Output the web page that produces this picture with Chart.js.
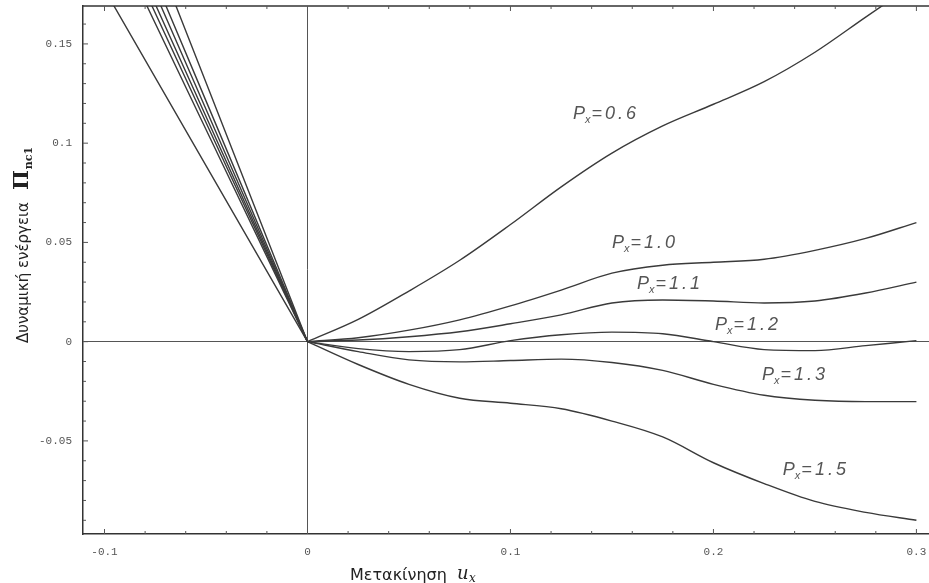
<!DOCTYPE html>
<html>
<head>
<meta charset="utf-8">
<script src="https://cdn.jsdelivr.net/npm/chart.js@4.4.1/dist/chart.umd.min.js"></script>
<style>
  html, body { margin: 0; padding: 0; background: #fff; }
  #wrap { width: 929px; height: 583px; }
</style>
</head>
<body>
<div id="wrap"><canvas id="energyChart"></canvas></div>
<script>
// axis ranges and tick labels
const xMin = -0.1106, xMax = 0.3062;
const yMin = -0.0969, yMax = 0.1691;
const xTicks = [-0.1, 0, 0.1, 0.2, 0.3];
const yTicks = [-0.05, 0, 0.05, 0.1, 0.15];

// right branch (u >= 0), one array per load P_x
const uRight = [0, 0.025, 0.05, 0.075, 0.1, 0.125, 0.15, 0.175, 0.2, 0.225, 0.25, 0.275, 0.3];
const piP06 = [0, 0.0112, 0.0255, 0.041, 0.059, 0.078, 0.095, 0.1087, 0.1196, 0.131, 0.1458, 0.1635, 0.181];
const piP10 = [0, 0.002, 0.0058, 0.011, 0.018, 0.026, 0.0345, 0.0385, 0.040, 0.0415, 0.046, 0.052, 0.060];
const piP11 = [0, 0.0008, 0.0025, 0.005, 0.009, 0.0135, 0.0195, 0.021, 0.0205, 0.0195, 0.0205, 0.0245, 0.030];
const piP12 = [0, -0.0035, -0.005, -0.004, 0.0005, 0.0035, 0.0048, 0.004, 0.0, -0.004, -0.0045, -0.002, 0.0005];
const piP13 = [0, -0.005, -0.0092, -0.0102, -0.0095, -0.0088, -0.0105, -0.0145, -0.0215, -0.027, -0.0295, -0.0302, -0.0302];
const piP15 = [0, -0.0115, -0.0215, -0.0285, -0.031, -0.0338, -0.040, -0.048, -0.061, -0.0715, -0.0805, -0.086, -0.09];

// left branch (u <= 0), nearly straight lines
const uLeft = [-0.1, -0.05, 0];
const leftP06 = [0.1774, 0.0887, 0];
const leftP10 = [0.2138, 0.1069, 0];
const leftP11 = [0.2207, 0.1104, 0];
const leftP12 = [0.2267, 0.1134, 0];
const leftP13 = [0.2342, 0.1171, 0];
const leftP14 = [0.2426, 0.1213, 0];
const leftP15 = [0.2610, 0.1305, 0];

// curve labels: value text and anchor (u, Pi)
const labelText = ["0.6", "1.0", "1.1", "1.2", "1.3", "1.5"];
const labelU = [0.1308, 0.150, 0.1623, 0.2008, 0.2239, 0.2342];
const labelPi = [0.1122, 0.0472, 0.0266, 0.0059, -0.0193, -0.0672];

const lineColor = "#3a3a3a";
const toPts = (xs, ys) => xs.map((x, i) => ({ x: x, y: ys[i] }));

const rightSets = [piP06, piP10, piP11, piP12, piP13, piP15].map((ys) => ({
  data: toPts(uRight, ys),
  showLine: true,
  borderColor: lineColor,
  borderWidth: 1.4,
  cubicInterpolationMode: "monotone",
  pointRadius: 0,
}));
const leftSets = [leftP06, leftP10, leftP11, leftP12, leftP13, leftP14, leftP15].map((ys) => ({
  data: toPts(uLeft, ys),
  showLine: true,
  borderColor: lineColor,
  borderWidth: 1.4,
  tension: 0,
  pointRadius: 0,
}));

const decorations = {
  id: "decorations",
  afterDraw: (chart) => {
    const ctx = chart.ctx;
    const a = chart.chartArea;
    const xs = chart.scales.x;
    const ys = chart.scales.y;
    ctx.save();

    // top frame line
    ctx.strokeStyle = "#333";
    ctx.lineWidth = 1.5;
    ctx.beginPath();
    ctx.moveTo(a.left, a.top);
    ctx.lineTo(a.right, a.top);
    ctx.stroke();

    // inward tick marks
    ctx.lineWidth = 1;
    ctx.strokeStyle = "#555";
    ctx.beginPath();
    for (let i = -5; i <= 15; i++) {
      const px = xs.getPixelForValue(i * 0.02);
      const len = i % 5 === 0 ? 5 : 3;
      ctx.moveTo(px, a.bottom);
      ctx.lineTo(px, a.bottom - len);
      ctx.moveTo(px, a.top);
      ctx.lineTo(px, a.top + len);
    }
    for (let i = -9; i <= 16; i++) {
      const py = ys.getPixelForValue(i * 0.01);
      const len = i % 5 === 0 ? 5 : 3;
      ctx.moveTo(a.left, py);
      ctx.lineTo(a.left + len, py);
    }
    ctx.stroke();

    // curve labels P_x=...
    ctx.fillStyle = "#555";
    ctx.textBaseline = "alphabetic";
    ctx.textAlign = "left";
    labelText.forEach((t, i) => {
      let x = xs.getPixelForValue(labelU[i]);
      const y = ys.getPixelForValue(labelPi[i]);
      ctx.font = "italic 18px 'Liberation Sans'";
      ctx.fillText("P", x, y);
      x += ctx.measureText("P").width;
      ctx.font = "italic 11px 'Liberation Sans'";
      ctx.fillText("x", x, y + 4);
      x += ctx.measureText("x").width + 1;
      ctx.font = "italic 18px 'Liberation Sans'";
      ctx.letterSpacing = "3px";
      ctx.fillText("=" + t, x, y);
      ctx.letterSpacing = "0px";
    });

    // x axis title
    ctx.fillStyle = "#222";
    ctx.font = "16px 'DejaVu Sans'";
    ctx.fillText("Μετακίνηση", 350, 580);
    ctx.font = "italic 18px 'DejaVu Serif'";
    ctx.fillText("u", 457, 579);
    ctx.font = "italic 12px 'DejaVu Serif'";
    ctx.fillText("x", 469, 582);

    // y axis title (rotated)
    ctx.translate(28, 343);
    ctx.rotate(-Math.PI / 2);
    ctx.font = "15px 'DejaVu Sans'";
    ctx.fillText("Δυναμική ενέργεια", 0, 0);
    let tx = ctx.measureText("Δυναμική ενέργεια").width + 12;
    ctx.font = "bold 21px 'DejaVu Serif'";
    ctx.fillText("Π", tx, 0);
    tx += ctx.measureText("Π").width + 1;
    ctx.font = "bold 11px 'DejaVu Serif'";
    ctx.fillText("nc1", tx, 4);
    ctx.restore();
  },
};

const zeroGrid = (c) => (c.tick && c.tick.value === 0 ? "#555" : "rgba(0,0,0,0)");
const tickFont = { family: "'Liberation Mono', 'DejaVu Sans Mono', monospace", size: 11 };
const fmt = (v) => (v === 0 ? "0" : String(Number(v.toFixed(3))));

const ctx = document.getElementById("energyChart").getContext("2d");
const energyChart = new Chart(ctx, {
  type: "scatter",
  data: { datasets: [...leftSets, ...rightSets] },
  plugins: [decorations],
  options: {
    responsive: true,
    maintainAspectRatio: false,
    animation: false,
    layout: { padding: { top: 6, right: 0, left: 0, bottom: 0 } },
    plugins: {
      legend: { display: false },
      tooltip: { enabled: false },
    },
    scales: {
      x: {
        type: "linear",
        min: xMin,
        max: xMax,
        afterBuildTicks: (s) => {
          s.ticks = xTicks.map((v) => ({ value: v }));
        },
        afterFit: (s) => {
          s.height = 49;
          s.paddingLeft = 0;
          s.paddingRight = 0;
        },
        grid: { color: zeroGrid, lineWidth: 1, drawTicks: false },
        border: { display: true, color: "#333", width: 1.5 },
        ticks: { font: tickFont, color: "#555", padding: 11, maxRotation: 0, callback: fmt },
      },
      y: {
        type: "linear",
        min: yMin,
        max: yMax,
        afterBuildTicks: (s) => {
          s.ticks = yTicks.map((v) => ({ value: v }));
        },
        afterFit: (s) => {
          s.width = 83;
          s.paddingTop = 0;
          s.paddingBottom = 0;
        },
        grid: { color: zeroGrid, lineWidth: 1, drawTicks: false },
        border: { display: true, color: "#333", width: 1.5 },
        ticks: { font: tickFont, color: "#555", padding: 11, callback: fmt },
      },
    },
  },
});
</script>
</body>
</html>
